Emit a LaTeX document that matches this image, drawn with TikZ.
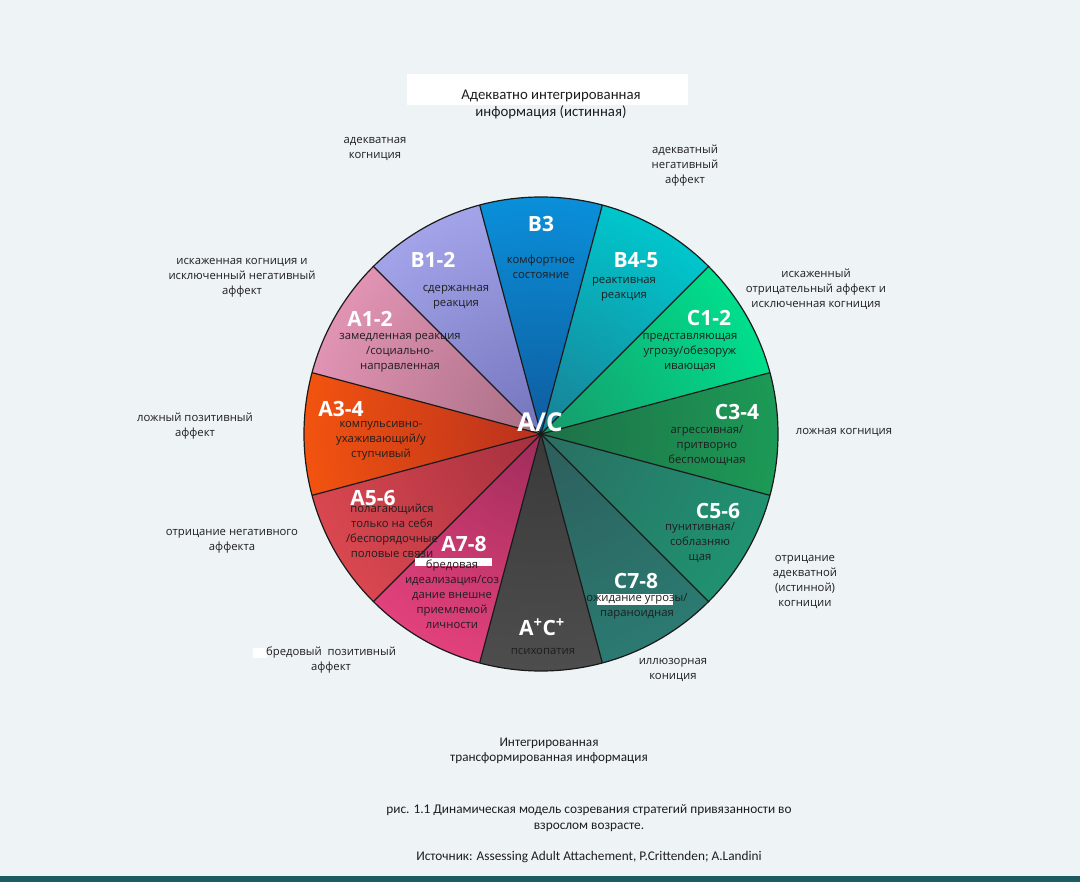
\documentclass[tikz,border=0pt]{standalone}
\usepackage{fontspec}
\setmainfont{Open Sans}
\newfontfamily\calfont{Carlito}
\definecolor{bg}{HTML}{EEF3F6}
\definecolor{strip}{HTML}{1D5B62}
\definecolor{txt}{HTML}{1E1E1E}
\definecolor{edge}{HTML}{1A1A1A}
\definecolor{bthreeO}{HTML}{0A8FD9}\definecolor{bthreeI}{HTML}{0F5C9E}
\definecolor{bfourO}{HTML}{00C6CC}\definecolor{bfourI}{HTML}{1A7F95}
\definecolor{coneO}{HTML}{00DE8C}\definecolor{coneI}{HTML}{179A6A}
\definecolor{cthreeO}{HTML}{1C9A56}\definecolor{cthreeI}{HTML}{1E7048}
\definecolor{cfiveO}{HTML}{1F9271}\definecolor{cfiveI}{HTML}{2A6E62}
\definecolor{csevenO}{HTML}{2B7A71}\definecolor{csevenI}{HTML}{2D5E5C}
\definecolor{acO}{HTML}{4D4D4D}\definecolor{acI}{HTML}{3A3A3A}
\definecolor{asevenO}{HTML}{E2417C}\definecolor{asevenI}{HTML}{9E2C5A}
\definecolor{afiveO}{HTML}{D9474F}\definecolor{afiveI}{HTML}{A5303F}
\definecolor{athreeO}{HTML}{F2530F}\definecolor{athreeI}{HTML}{B8301E}
\definecolor{aoneO}{HTML}{E193B3}\definecolor{aoneI}{HTML}{A86E84}
\definecolor{boneO}{HTML}{A3A3EA}\definecolor{boneI}{HTML}{7474BC}
\newcommand\pieslice[3]{%
  \begin{scope}
    \clip (0,0) -- (#1-15:237pt) arc[start angle=#1-15, end angle=#1+15, radius=237pt] -- cycle;
    \shade[inner color=#2, outer color=#3] (0,0) circle[radius=237pt];
  \end{scope}}
\begin{document}
\begin{tikzpicture}[x=1pt,y=-1pt,
  sm/.style={font=\fontsize{11.3}{15}\selectfont, text=txt, align=center, inner sep=0pt},
  big/.style={font=\fontsize{21}{24}\selectfont\bfseries, text=white, inner sep=0pt},
  cal/.style={font=\calfont\fontsize{13.3}{16}\selectfont, text=txt, align=center, inner sep=0pt},
  edgeline/.style={draw=edge, line width=1.2pt},
  patch/.style={fill=white}]
\fill[bg] (0,0) rectangle (1080,882);
\useasboundingbox (0,0) rectangle (1080,882);
\fill[strip] (0,876) rectangle (1080,882);
% title box
\fill[white] (407,74) rectangle (688,105);
% pie
\begin{scope}[shift={(541,434)}]
  \pieslice{90}{bthreeI}{bthreeO}
  \pieslice{60}{bfourI}{bfourO}
  \pieslice{30}{coneI}{coneO}
  \pieslice{0}{cthreeI}{cthreeO}
  \pieslice{-30}{cfiveI}{cfiveO}
  \pieslice{-60}{csevenI}{csevenO}
  \pieslice{-90}{acI}{acO}
  \pieslice{-120}{asevenI}{asevenO}
  \pieslice{-150}{afiveI}{afiveO}
  \pieslice{180}{athreeI}{athreeO}
  \pieslice{150}{aoneI}{aoneO}
  \pieslice{120}{boneI}{boneO}
  \foreach \a in {15,45,...,345} \draw[edgeline] (0,0) -- (\a:237pt);
  \draw[edgeline] (0,0) circle[radius=237pt];
\end{scope}
% white artefact patches
\fill[patch] (415,558) rectangle (492,566);
\fill[patch] (597,594) rectangle (673,605);
\fill[patch] (253,648) rectangle (267,658);
% big labels
\node[big] (lB3) at (541,224) {B3};
\node[big] (lB12) at (433,260) {B1-2};
\node[big] (lB45) at (636,260) {B4-5};
\node[big] (lA12) at (370,319) {A1-2};
\node[big] (lC12) at (709,318) {C1-2};
\node[big] (lA34) at (341,409) {A3-4};
\node[big] (lC34) at (737,412) {C3-4};
\node[big, font=\fontsize{26}{28}\selectfont\bfseries] (lAC) at (540,422) {A/C};
\node[big] (lA56) at (373,498) {A5-6};
\node[big] (lC56) at (718,511) {C5-6};
\node[big] (lA78) at (464,544) {A7-8};
\node[big] (lC78) at (636,581) {C7-8};
\node[big] (lACp) at (542,627) {A\textsuperscript{+}C\textsuperscript{+}};
% sector texts
\node[sm] (tB3) at (541,266.5) {комфортное\\состояние};
\node[sm] (tB12) at (456,297.5) {сдержанная\\реакция};
\node[sm] (tB45) at (624,289) {реактивная\\реакция};
\node[sm] (tA12) at (400,353) {замедленная реакция\\/социально-\\направленная};
\node[sm] (tC12) at (690,352.5) {представляющая\\угрозу/обезоруж\\ивающая};
\node[sm] (tA34) at (381,441) {компульсивно-\\ухаживающий/у\\ступчивый};
\node[sm] (tC34) at (707,446) {агрессивная/\\притворно\\беспомощная};
\node[sm] (tA56) at (392,531) {полагающийся\\только на себя\\/беспорядочные\\половые связи};
\node[sm] (tC56) at (700,542.5) {пунитивная/\\соблазняю\\щая};
\node[sm] (tA78) at (452,594) {бредовая\\идеализация/соз\\дание внешне\\приемлемой\\личности};
\node[sm] (tC78) at (637,606.5) {ожидание угрозы/\\параноидная};
\node[sm] (tACp) at (543,651) {психопатия};
% outer labels
\node[sm] (oAC) at (375,148.5) {адекватная\\когниция};
\node[sm] (oAN) at (685,166) {адекватный\\негативный\\аффект};
\node[sm] (oDK) at (242,278) {искаженная когниция и\\исключенный негативный\\аффект};
\node[sm] (oDA) at (816,289) {искаженный\\отрицательный аффект и\\исключенная когниция};
\node[sm] (oLP) at (195,426.5) {ложный позитивный\\аффект};
\node[sm] (oLK) at (844,432) {ложная когниция};
\node[sm] (oON) at (232,541) {отрицание негативного\\аффекта};
\node[sm] (oOA) at (805,581.5) {отрицание\\адекватной\\(истинной)\\когниции};
\node[sm] (oBP) at (331,660.5) {бредовый\ \ позитивный\\аффект};
\node[sm] (oIK) at (673,670) {иллюзорная\\кониция};
% title, bottom, caption
\node[cal, font=\calfont\fontsize{14.8}{17}\selectfont] (title) at (551,104.5) {Адекватно интегрированная\\информация (истинная)};
\node[cal, font=\calfont\fontsize{13.2}{15}\selectfont] (bottom) at (549,751) {Интегрированная\\трансформированная информация};
\node[cal] (cap) at (589,818) {рис. 1.1 Динамическая модель созревания стратегий привязанности во\\взрослом возрасте.};
\node[cal] (src) at (589,857) {Источник: Assessing Adult Attachement, P.Crittenden; A.Landini};
\end{tikzpicture}
\end{document}
